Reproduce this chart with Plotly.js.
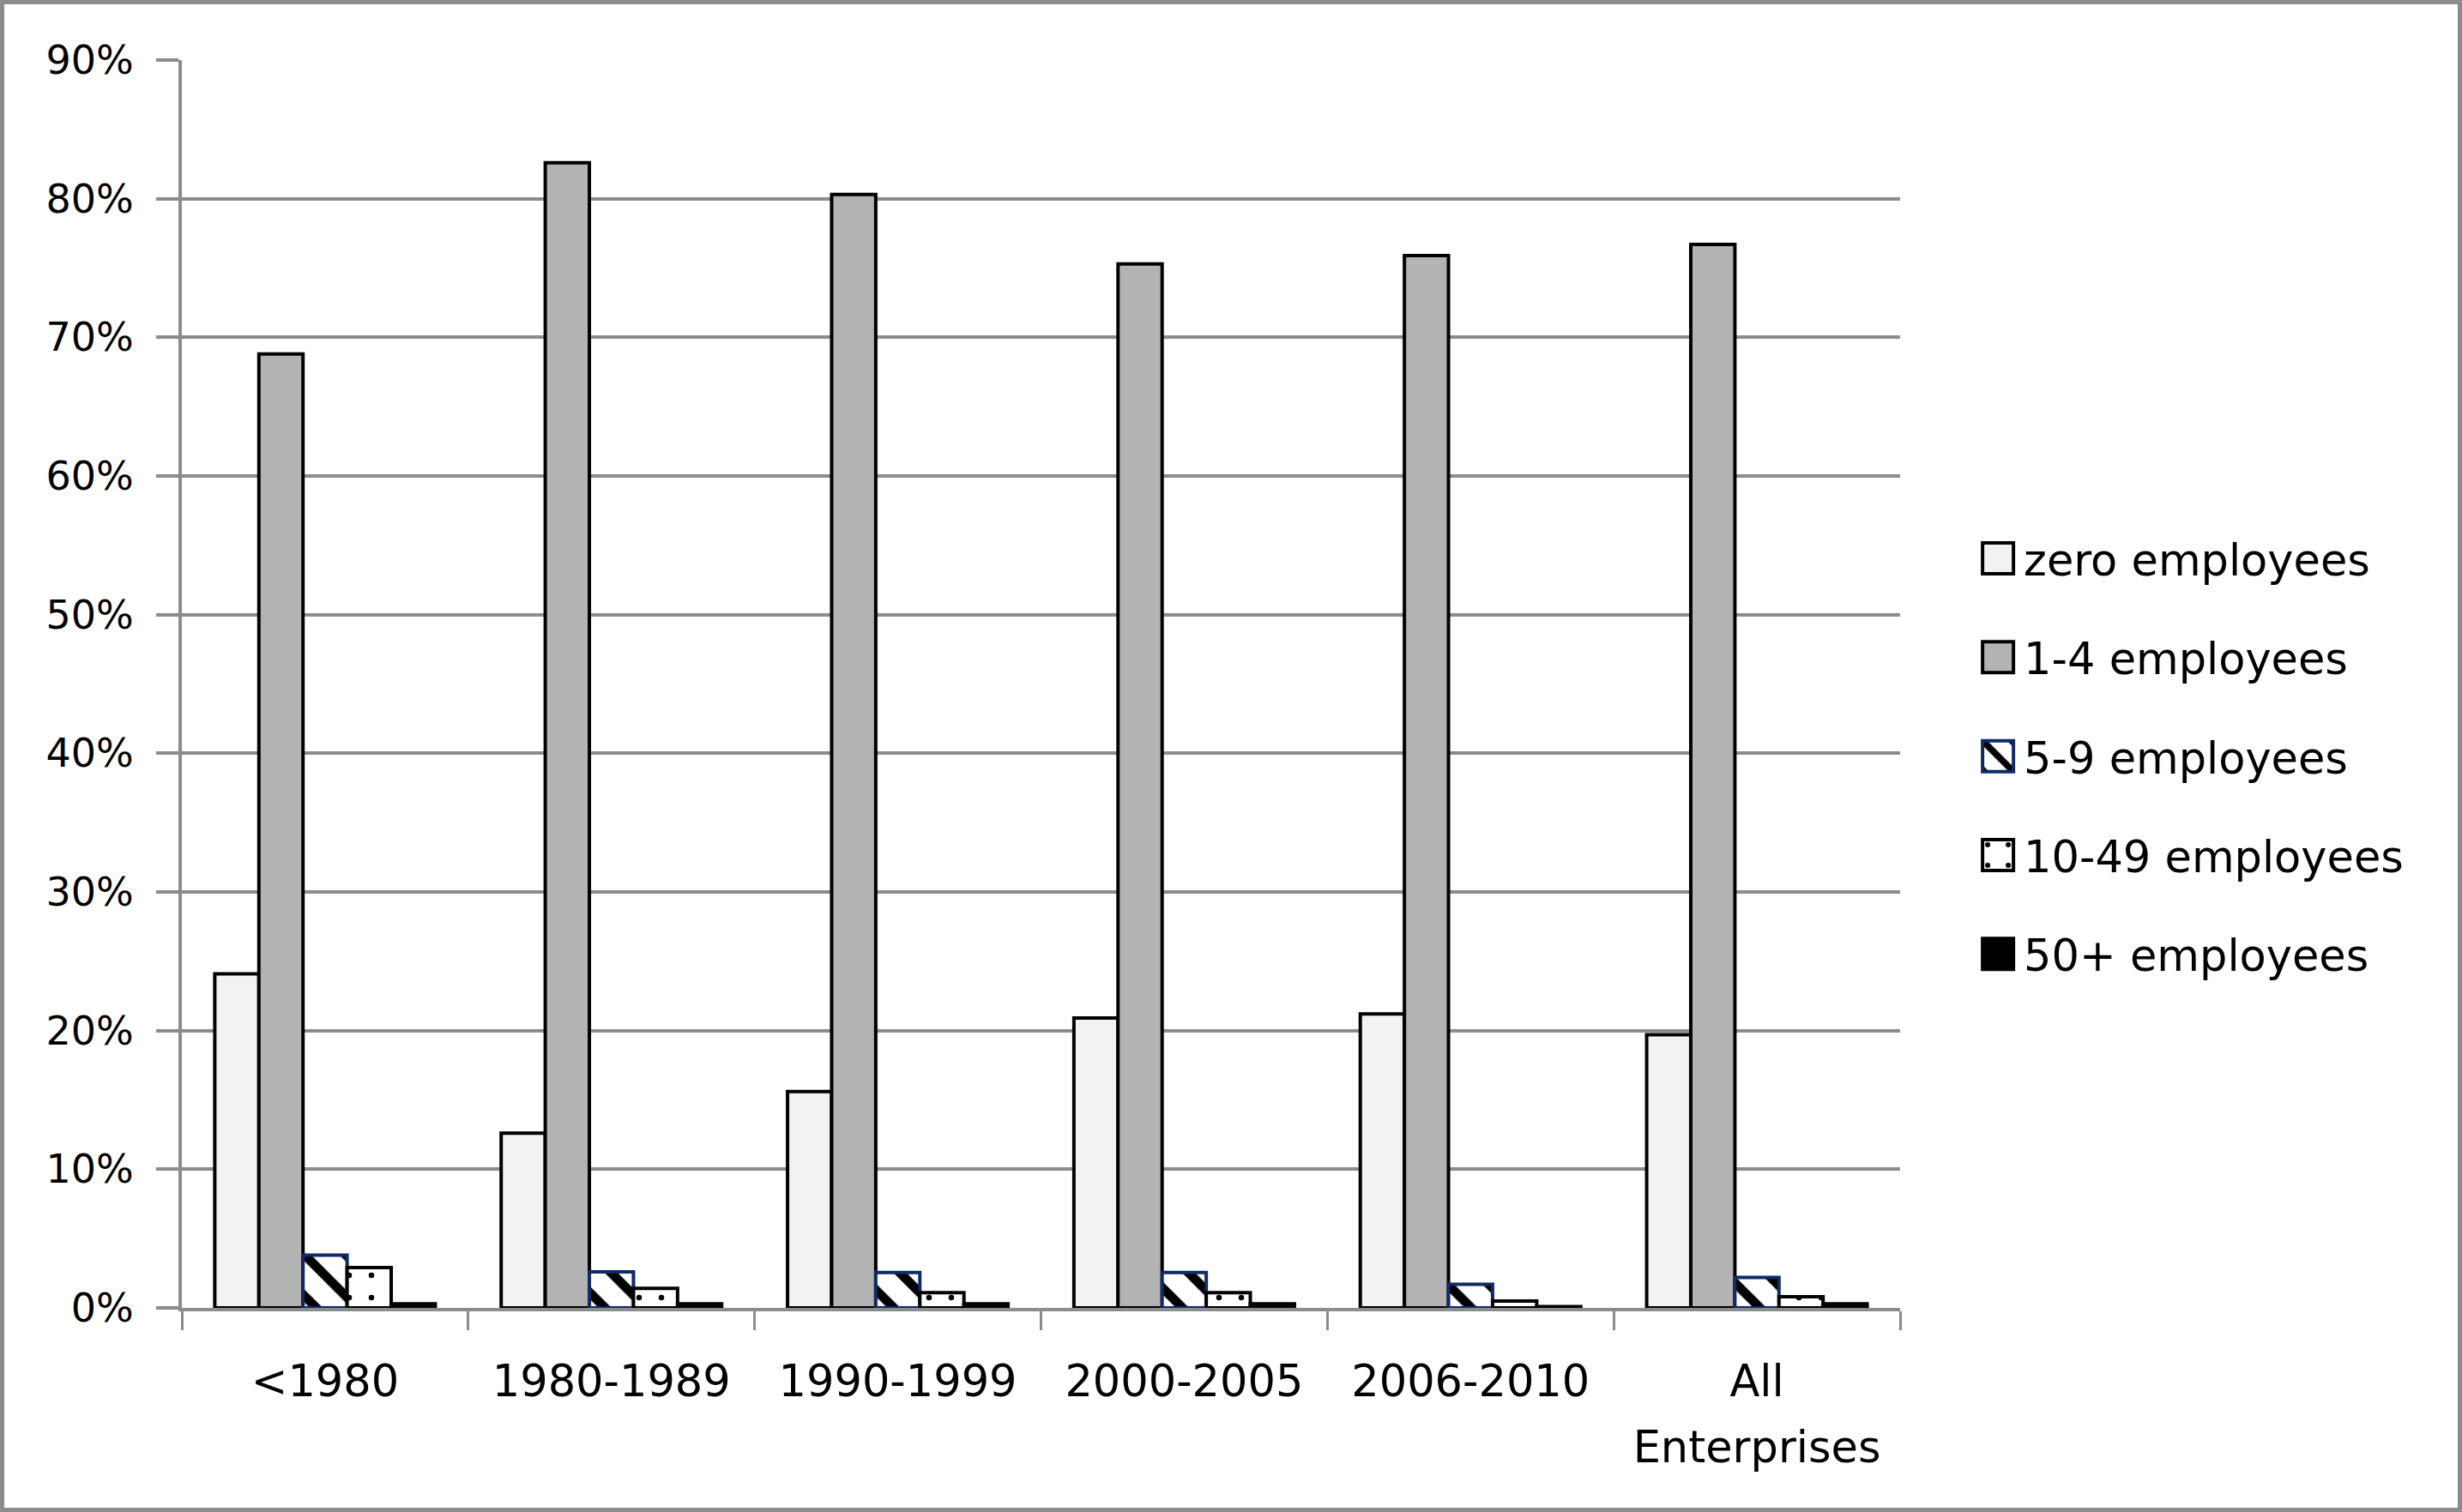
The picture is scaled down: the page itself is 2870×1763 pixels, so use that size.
<!DOCTYPE html>
<html>
<head>
<meta charset="utf-8">
<script src="https://cdn.plot.ly/plotly-3.0.1.min.js"></script>
<style>
  html, body { margin: 0; padding: 0; background: #fff; }
  #wrap { position: relative; width: 2870px; height: 1763px; }
  #chart { position: absolute; left: 0; top: 0; width: 2870px; height: 1763px; }
  #frame { position: absolute; left: 0; top: 0; width: 2870px; height: 1763px; box-sizing: border-box;
           border: 5px solid #8c8c8c; pointer-events: none; }
</style>
</head>
<body>
<div id="wrap"><div id="chart"></div><div id="frame"></div></div>
<script>
const categories = ['<1980', '1980-1989', '1990-1999', '2000-2005', '2006-2010', 'All<br>Enterprises'];
const seriesNames = ['zero employees', '1-4 employees', '5-9 employees', '10-49 employees', '50+ employees'];
const zeroEmp = [24.1, 12.6, 15.6, 20.9, 21.2, 19.7];
const oneToFour = [68.8, 82.6, 80.3, 75.3, 75.9, 76.7];
const fiveToNine = [3.8, 2.6, 2.55, 2.55, 1.7, 2.2];
const tenToFortyNine = [2.9, 1.4, 1.1, 1.1, 0.5, 0.8];
const fiftyPlus = [0.3, 0.3, 0.3, 0.3, 0.1, 0.3];
const yTickVals = [0, 10, 20, 30, 40, 50, 60, 70, 80, 90];

const FONT = 'DejaVu Sans';
const values = [zeroEmp, oneToFour, fiveToNine, tenToFortyNine, fiftyPlus];
const markers = [
  {color: '#f2f2f2', line: {color: '#000', width: 4}},
  {color: '#b3b3b3', line: {color: '#000', width: 4}},
  {color: '#ffffff', line: {color: '#0f2a66', width: 4},
   pattern: {shape: '\\', fgcolor: '#000', bgcolor: '#fff', size: 34, solidity: 0.32}},
  {color: '#ffffff', line: {color: '#000', width: 4},
   pattern: {shape: '.', fgcolor: '#000', bgcolor: '#fff', size: 26, solidity: 0.05}},
  {color: '#000000', line: {color: '#000', width: 4}}
];

const traces = values.map((v, i) => ({
  type: 'bar',
  name: seriesNames[i],
  x: categories,
  y: v,
  marker: markers[i],
  legendgroup: 'g' + i,
  hoverinfo: 'skip'
}));

const layout = {
  width: 2870,
  height: 1763,
  margin: {l: 212, r: 655, t: 70, b: 238},
  paper_bgcolor: '#ffffff',
  plot_bgcolor: '#ffffff',
  font: {family: FONT, size: 46, color: '#000'},
  barmode: 'group',
  bargap: 0.23,
  bargroupgap: 0,
  showlegend: true,
  legend: {
    x: 1.039, xanchor: 'left', y: 0.442, yanchor: 'middle',
    traceorder: 'grouped', tracegroupgap: 46,
    itemwidth: 56,
    font: {family: FONT, size: 51, color: '#000'},
    bgcolor: 'rgba(0,0,0,0)', borderwidth: 0
  },
  xaxis: {
    type: 'category',
    showgrid: false,
    showline: true, linecolor: '#8c8c8c', linewidth: 4,
    ticks: 'outside', ticklen: 22, tickwidth: 3, tickcolor: '#8c8c8c',
    tickson: 'boundaries',
    ticklabelstandoff: 38,
    tickfont: {family: FONT, size: 51, color: '#000'},
    zeroline: false, fixedrange: true
  },
  yaxis: {
    range: [0, 90],
    tickvals: yTickVals,
    ticktext: yTickVals.map(v => v + '%'),
    showgrid: true, gridcolor: '#8c8c8c', gridwidth: 4,
    showline: true, linecolor: '#8c8c8c', linewidth: 4,
    ticks: 'outside', ticklen: 26, tickwidth: 4, tickcolor: '#8c8c8c',
    ticklabelstandoff: 17,
    tickfont: {family: FONT, size: 46, color: '#000'},
    zeroline: false, fixedrange: true
  }
};

Plotly.newPlot('chart', traces, layout, {staticPlot: true, displayModeBar: false}).then(gd => {
  // enlarge the legend swatches to match the reference's big squares
  gd.querySelectorAll('.legend .legendpoints path').forEach(p => {
    p.setAttribute('transform', 'translate(36,0) scale(3)');
    p.style.vectorEffect = 'non-scaling-stroke';
    p.style.strokeWidth = '4px';
  });
  // wider line spacing for the two-line category label
  gd.querySelectorAll('.xtick text tspan.line').forEach(t => {
    const dy = t.getAttribute('dy');
    if (dy && parseFloat(dy) > 0) t.setAttribute('dy', '1.5em');
  });
});
</script>
</body>
</html>
